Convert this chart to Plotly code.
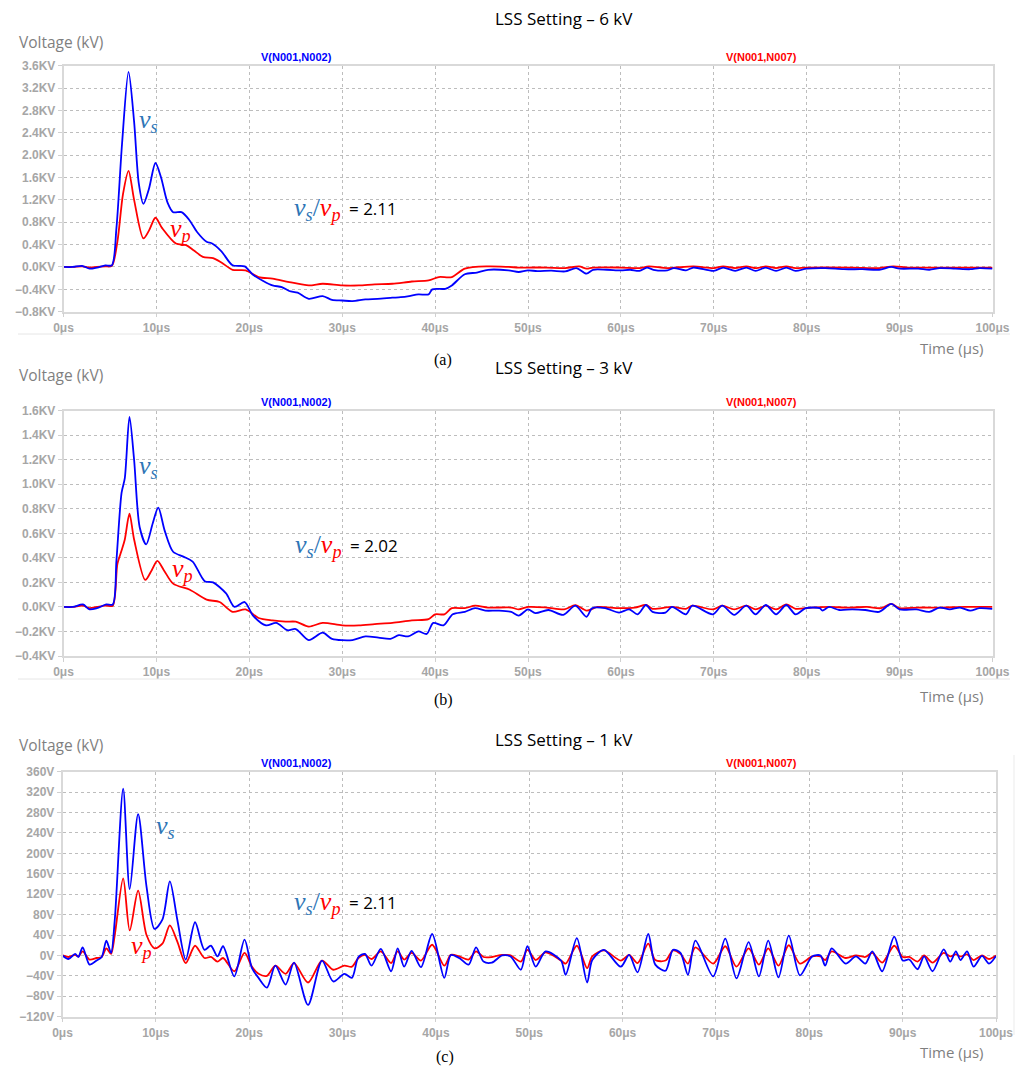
import plotly.graph_objects as go

# page offset of the plot inside the browser page (default body margin)
OFF = 8
W, H = 1026 - OFF, 1066 - OFF

# ---------------- data (times in µs) ----------------
# Panel (a) LSS 6 kV, values in kV
A_T_VS = [0, 1, 2, 2.8, 3.6, 4.5, 5.2, 5.7, 6.3, 7.0, 7.6, 8.1, 8.6, 9.2, 9.9, 10.5, 11.2, 11.8, 12.7, 13.5, 14.4, 15.4, 16.0, 17.0, 18.2, 19.5, 20.4, 21.5, 22.5, 23.5, 24.3, 25.2, 26.4, 27.9, 28.9, 30.0, 31.1, 32.5, 33.8, 35.4, 36.3, 37.2, 38.2, 39.3, 39.7, 41.1, 41.8, 43.2, 44.5, 45.7, 47.9, 49.0,
          50.0, 51.0, 52.5, 54.0, 55.2, 56.3, 57.0, 58.5, 60.0, 61.0, 62.0, 62.8, 63.5, 65.0, 65.7, 67.0, 67.8, 70.0, 71.0, 72.3, 73.5, 74.5, 75.6, 76.7, 77.8, 78.8, 80.0, 82.0, 84.0, 86.0, 87.8, 89.1, 90.0, 92.0, 93.2, 94.3, 96.0, 97.6, 98.6, 100]
A_VS = [0, 0, 0.02, -0.03, -0.01, 0.03, 0.03, 0.7, 2.2, 3.49, 2.6, 1.5, 1.13, 1.4, 1.86, 1.6, 1.15, 0.98, 0.98, 0.85, 0.62, 0.45, 0.42, 0.28, 0.03, 0.01, -0.14, -0.25, -0.33, -0.36, -0.43, -0.46, -0.57, -0.52, -0.59, -0.6, -0.61, -0.58, -0.57, -0.55, -0.54, -0.52, -0.49, -0.49, -0.4, -0.39, -0.33, -0.13, -0.1, -0.05, -0.06, -0.09,
        -0.06, -0.075, -0.065, -0.08, -0.02, -0.12, -0.05, -0.05, -0.06, -0.05, -0.07, -0.01, -0.05, -0.06, -0.02, -0.06, -0.01, -0.07, -0.01, -0.07, -0.01, -0.07, -0.01, -0.07, -0.01, -0.07, -0.03, -0.02, -0.04, -0.04, -0.05, 0.0, -0.03, -0.03, -0.05, -0.02, -0.03, -0.04, -0.02, -0.03]
A_T_VP = [0, 1, 2, 2.8, 3.6, 4.5, 5.2, 5.8, 6.4, 7.0, 7.6, 8.6, 9.2, 9.9, 10.6, 12.1, 13.2, 14.0, 15.0, 16.1, 17.0, 18.2, 19.6, 21.0, 22.5, 24.3, 26.4, 27.9, 30.0, 31.8, 33.5, 35.4, 37.5, 39.3, 40.4, 41.8, 43.2, 45.7, 47.9, 49.0,
          50.0, 52.0, 54.0, 55.5, 56.3, 57.0, 60.0, 62.0, 63.0, 65.0, 67.8, 70.0, 71.0, 72.3, 73.5, 74.6, 75.6, 76.7, 77.8, 78.8, 80.0, 85.0, 87.8, 89.3, 91.0, 95.0, 100]
A_VP = [0, 0, 0.01, -0.01, 0, 0.01, 0.02, 0.45, 1.3, 1.72, 1.2, 0.51, 0.65, 0.88, 0.7, 0.42, 0.39, 0.3, 0.18, 0.16, 0.08, -0.05, -0.06, -0.18, -0.21, -0.27, -0.33, -0.3, -0.33, -0.33, -0.31, -0.3, -0.26, -0.24, -0.18, -0.18, -0.03, 0.01, 0.0, -0.01,
        -0.01, -0.01, -0.02, 0.01, -0.03, -0.01, -0.01, -0.02, 0.01, -0.02, 0.01, -0.02, 0.01, -0.02, 0.01, -0.02, 0.01, -0.02, 0.01, -0.02, -0.01, -0.01, -0.02, 0.01, -0.01, -0.01, -0.01]

# Panel (b) LSS 3 kV, values in kV
B_T_VS = [0, 1, 2.1, 2.8, 3.6, 4.6, 5.3, 5.7, 6.25, 6.6, 7.1, 7.6, 8.2, 8.9, 9.6, 10.2, 10.9, 11.8, 12.9, 13.9, 15.2, 16.1, 17.5, 18.4, 19.5, 20.4, 21.8, 22.9, 24.1, 25.0, 26.4, 27.9, 28.9, 31.1, 32.5, 33.9, 35.2, 36.1, 37.1, 38.2, 39.1, 39.8, 40.9, 41.9, 43.2, 44.3, 45.4, 46.8, 48.2, 49.0,
          50.0, 50.8, 52.2, 53.8, 55.1, 56.3, 56.9, 58.3, 59.8, 60.9, 61.8, 62.7, 63.4, 64.8, 65.5, 67.0, 67.7, 69.9, 70.9, 72.2, 73.5, 74.5, 75.6, 76.7, 77.8, 78.8, 79.9, 81.4, 81.7, 82.4, 83.5, 84.9, 86.3, 87.8, 89.1, 90.0, 91.8, 93.2, 94.3, 95.4, 96.5, 97.6, 98.6, 100]
B_VS = [0, 0, 0.02, -0.02, -0.01, 0.02, 0.02, 0.38, 0.93, 1.05, 1.55, 1.2, 0.65, 0.51, 0.68, 0.81, 0.62, 0.45, 0.41, 0.37, 0.21, 0.2, 0.11, 0.0, 0.04, -0.07, -0.15, -0.13, -0.19, -0.18, -0.27, -0.21, -0.26, -0.27, -0.24, -0.25, -0.26, -0.23, -0.24, -0.2, -0.22, -0.13, -0.15, -0.06, -0.04, -0.01, -0.03, -0.03, -0.04, -0.07,
        -0.02, -0.05, -0.025, -0.065, 0.01, -0.08, -0.01, -0.01, -0.046, -0.02, -0.06, 0.016, -0.04, -0.046, 0.0, -0.06, 0.01, -0.06, 0.01, -0.065, 0.01, -0.06, 0.016, -0.06, 0.016, -0.06, -0.01, -0.01, -0.03, 0.0, -0.025, -0.02, -0.025, -0.04, 0.025, -0.02, -0.02, -0.04, -0.005, -0.02, -0.005, -0.03, -0.01, -0.015]
B_T_VP = [0, 1, 2.1, 2.8, 3.6, 4.6, 5.3, 5.8, 6.25, 6.6, 7.1, 7.6, 8.8, 9.5, 10.1, 10.8, 11.8, 13.6, 15.4, 16.8, 18.2, 19.6, 21.0, 22.5, 23.9, 25.0, 26.4, 27.9, 30.0, 31.8, 33.5, 35.4, 37.5, 39.3, 40.0, 41.0, 41.8, 43.2, 44.3, 45.7, 48.2, 49.0,
          50.0, 52.0, 53.9, 55.1, 56.3, 57.5, 59.8, 61.5, 62.7, 63.4, 65.5, 67.0, 67.7, 69.9, 70.9, 72.2, 73.5, 74.5, 75.6, 76.7, 77.8, 78.8, 80.5, 82.4, 84.5, 86.5, 88.0, 89.1, 90.0, 92.0, 94.5, 97.0, 100]
B_VP = [0, 0, 0.01, -0.01, 0, 0.01, 0.01, 0.35, 0.46, 0.55, 0.76, 0.55, 0.22, 0.3, 0.375, 0.3, 0.19, 0.14, 0.06, 0.04, -0.04, -0.02, -0.09, -0.11, -0.12, -0.12, -0.16, -0.13, -0.15, -0.15, -0.14, -0.13, -0.11, -0.1, -0.06, -0.06, -0.01, -0.01, 0.01, -0.005, -0.005, -0.02,
        0.0, -0.005, -0.02, 0.015, -0.03, 0.0, -0.01, -0.005, 0.016, -0.015, 0.0, -0.015, 0.01, -0.02, 0.01, -0.02, 0.01, -0.02, 0.01, -0.02, 0.02, -0.015, -0.005, 0.0, -0.005, 0.0, -0.01, 0.025, -0.01, -0.005, -0.005, 0.0, 0.0]

# Panel (c) LSS 1 kV, values in V
C_T = [0, 0.64, 1.35, 1.7, 2.16, 2.9, 3.65, 4.2, 4.7, 5.2, 5.6, 6.5, 7.2, 8.1, 9.0, 9.86, 10.7, 11.5, 12.3, 13.2, 14.2, 15.2, 15.9, 16.6, 17.2, 18.4, 19.5, 20.3, 21.0, 21.9, 22.8, 23.9, 24.8, 26.3, 27.8, 29.0, 30.2, 31.0, 31.7, 32.4, 33.1, 34.1, 35.2, 35.9, 36.6, 37.4, 38.4, 39.6, 40.9, 41.6, 42.5, 43.5, 44.3, 45.1, 46.0, 47.1, 48.0, 49.1, 49.8, 50.7, 51.75, 53.4, 53.9, 55.1, 56.2, 56.75, 58.0, 59.8, 60.7, 61.6, 62.75, 63.5, 64.6, 65.4, 66.2, 67.0, 67.8, 69.7, 71.0, 72.2, 73.5, 74.6, 75.6, 76.7, 77.8, 79.0, 80.3, 81.2, 81.7, 82.4, 83.9, 85.0, 86.0, 86.75, 87.8, 89.1, 90.0, 90.7, 91.6, 92.3, 93.2, 94.4, 95.1, 95.7, 96.2, 96.9, 97.6, 98.5, 99.25, 100]
C_VS = [0, -7, 3, -3, 16, -18, -10, -3, 29, 5, 70, 327, 130, 277, 135, 52, 70, 145, 70, -8, 65, 11, 19, -2, 18, -41, 31, -25, -44, -63, -20, -57, -14, -97, -10, -51, -36, -44, -3, 3, -20, 13, -31, 14, -22, 9, -23, 42, -44, 1, -5, -18, 16, -12, -14, 0, -2, -28, 18, -22, 8, -10, -38, 34, -53, -9, 11, -22, 1, -33, 42, -18, -30, 11, 5, -38, 29, -41, 33, -45, 26, -41, 29, -43, 39, -39, -2, 0, -20, 14, -16, -2, -16, 8, -31, 37, -10, -8, -27, -2, -31, 12, -12, 8, -9, 8, -22, -1, -16, -1]
C_VP = [0, -3, 1, -2, 8, -8, -5, -3, 14, 3, 40, 151, 49, 127, 40, 14, 23, 59, 27, -15, 19, -5, -3, -12, -5, -31, 5, -22, -36, -40, -20, -36, -15, -53, -10, -28, -20, -22, -5, 1, -7, 8, -15, 8, -8, 5, -10, 21, -20, 1, -2, -8, 8, -3, -3, 1, 0, -12, 11, -9, 6, -10, -16, 19, -25, -2, 10, -10, 1, -15, 23, -9, -10, 10, 3, -16, 16, -16, 18, -22, 14, -18, 14, -20, 20, -16, -2, -2, -9, 8, -5, 0, -3, 5, -14, 19, -3, -3, -12, 0, -14, 5, -2, 2, -2, 2, -9, 0, -7, 0]

PANELS = [
    dict(t_vs=A_T_VS, vs=A_VS, t_vp=A_T_VP, vp=A_VP, yrange=[-0.8, 3.6], dtick=0.4, fmt=".1f", suffix="KV",
         title="LSS Setting – 6 kV", ratio="2.11", tag="(a)"),
    dict(t_vs=B_T_VS, vs=B_VS, t_vp=B_T_VP, vp=B_VP, yrange=[-0.4, 1.6], dtick=0.2, fmt=".1f", suffix="KV",
         title="LSS Setting – 3 kV", ratio="2.02", tag="(b)"),
    dict(t_vs=C_T, vs=C_VS, t_vp=C_T, vp=C_VP, yrange=[-120, 360], dtick=40, fmt="d", suffix="V",
         title="LSS Setting – 1 kV", ratio="2.11", tag="(c)"),
]

# ---------------- layout geometry (page pixels) ----------------
GEOM = [
    dict(x0=63.5, x1=992.5, top=65.7, bot=311.7, title_y=19, volt_y=42, name_y=57, time_y=348, tag_y=360, tag_x=443,
         vs_xy=(148, 121), vp_xy=(180, 230), ratio_xy=(292, 209), sep_y=334),
    dict(x0=63.5, x1=992.5, top=410.7, bot=656, title_y=367, volt_y=375, name_y=402, time_y=696, tag_y=700, tag_x=443,
         vs_xy=(148, 467), vp_xy=(182, 570), ratio_xy=(293, 546), sep_y=679),
    dict(x0=62.5, x1=996, top=771.7, bot=1016.7, title_y=740, volt_y=745, name_y=763, time_y=1052, tag_y=1057, tag_x=445,
         vs_xy=(165, 827), vp_xy=(141, 947), ratio_xy=(292, 903), sep_y=None),
]

def px(x):
    return (x - OFF) / W

def py(y):
    return 1 - (y - OFF) / H

BLUE = "#0000FF"
RED = "#FF0000"
MBLUE = "#2E75B6"
TICKGRAY = "#A6A6A6"

fig = go.Figure()
annotations = []
shapes = []

for i, (p, g) in enumerate(zip(PANELS, GEOM)):
    n = "" if i == 0 else str(i + 1)
    xa, ya = "x" + n, "y" + n
    fig.add_trace(go.Scatter(x=p["t_vp"], y=p["vp"], mode="lines", line=dict(color=RED, width=1.8, shape="spline", smoothing=0.8),
                             xaxis=xa, yaxis=ya, showlegend=False, hoverinfo="skip"))
    fig.add_trace(go.Scatter(x=p["t_vs"], y=p["vs"], mode="lines", line=dict(color=BLUE, width=1.8, shape="spline", smoothing=0.8),
                             xaxis=xa, yaxis=ya, showlegend=False, hoverinfo="skip"))
    axcommon = dict(showgrid=True, gridcolor="#BDBDBD", griddash="dot", gridwidth=1, automargin=False,
                    showline=True, linecolor="#D9D9D9", linewidth=1.5, mirror=True,
                    ticks="outside", ticklen=4, tickcolor="#D0D0D0", zeroline=False,
                    tickfont=dict(family="Liberation Sans", size=12, color=TICKGRAY, weight="bold"))
    fig.layout["xaxis" + n] = dict(axcommon, domain=[px(g["x0"]), px(g["x1"])], range=[0, 100], dtick=10,
                                   ticksuffix="μs", anchor=ya)
    fig.layout["yaxis" + n] = dict(axcommon, domain=[py(g["bot"]), py(g["top"])], range=p["yrange"], dtick=p["dtick"],
                                   tickformat=p["fmt"], ticksuffix=p["suffix"], anchor=xa)

    def ann(text, x, y, xanchor="center", size=14, color="black", family="Open Sans", **kw):
        annotations.append(dict(text=text, x=px(x), y=py(y), xref="paper", yref="paper", showarrow=False,
                                xanchor=xanchor, yanchor="middle", font=dict(size=size, color=color, family=family), **kw))

    ann(p["title"], 564, g["title_y"], size=17)
    ann("Voltage (kV)", 17, g["volt_y"], xanchor="left", size=15.5, color="#7F7F7F")
    ann("<b>V(N001,N002)</b>", 296, g["name_y"], size=11, color=BLUE, family="Liberation Sans")
    ann("<b>V(N001,N007)</b>", 761, g["name_y"], size=11, color=RED, family="Liberation Sans")
    ann("Time (μs)", 952, g["time_y"], size=15, color="#7F7F7F")
    ann(p["tag"], g["tag_x"], g["tag_y"], size=16, family="Liberation Serif")
    ann("<i>v<sub>s</sub></i>", g["vs_xy"][0], g["vs_xy"][1], size=26, color=MBLUE, family="Liberation Serif")
    ann("<i>v<sub>p</sub></i>", g["vp_xy"][0], g["vp_xy"][1], size=26, color=RED, family="Liberation Serif")
    ann("<i>v<sub>s</sub></i>/<span style='color:" + RED + "'><i>v<sub>p</sub></i></span>",
        g["ratio_xy"][0], g["ratio_xy"][1], xanchor="left", size=26, color=MBLUE, family="Liberation Serif")
    ann("= " + p["ratio"], g["ratio_xy"][0] + 55, g["ratio_xy"][1] - 1, xanchor="left", size=17)
    if g["sep_y"] is not None:
        shapes.append(dict(type="line", xref="paper", yref="paper", x0=px(18), x1=px(1010), y0=py(g["sep_y"]), y1=py(g["sep_y"]),
                           line=dict(color="#E6E6E6", width=1)))

shapes.append(dict(type="line", xref="paper", yref="paper", x0=px(1014), x1=px(1014), y0=py(755), y1=py(1035),
                   line=dict(color="#EBEBEB", width=1)))

fig.update_layout(width=W, height=H, margin=dict(l=0, r=0, t=0, b=0), paper_bgcolor="white", plot_bgcolor="white",
                  annotations=annotations, shapes=shapes, showlegend=False)

fig.write_html("out.html")
